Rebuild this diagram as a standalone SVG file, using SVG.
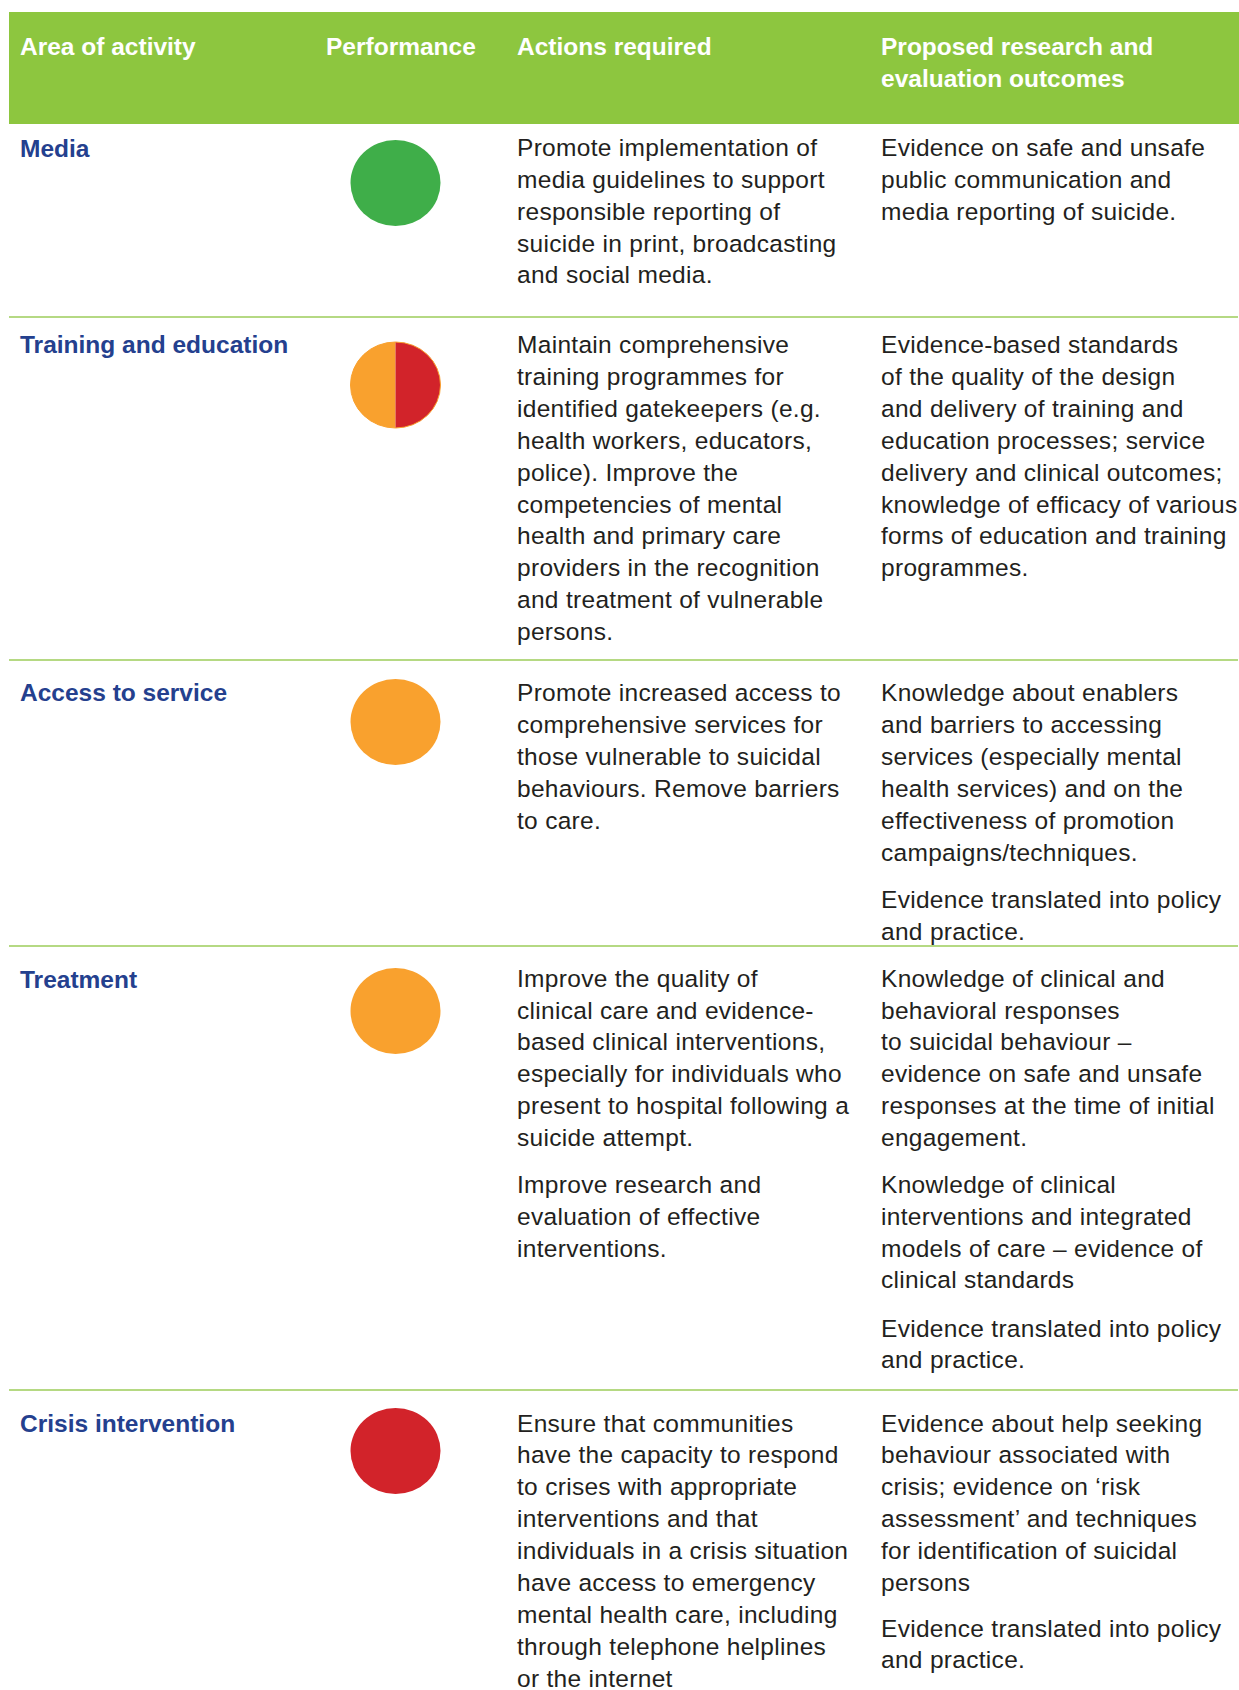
<svg xmlns="http://www.w3.org/2000/svg" width="1239" height="1690" viewBox="0 0 1239 1690">
<style>
.hd{font-family:"Liberation Sans",Arial,sans-serif;font-weight:bold;font-size:24.5px;fill:#ffffff}
.tt{font-family:"Liberation Sans",Arial,sans-serif;font-weight:bold;font-size:24.5px;fill:#24408e}
.bd{font-family:"Liberation Sans",Arial,sans-serif;font-size:24.5px;fill:#231f20;letter-spacing:0.3px}
.sep{stroke:#9ccc5a;stroke-width:1.6}
.green{fill:#3fae49}
.orange{fill:#f9a12e}
.red{fill:#d2232a}
</style>
<rect width="1239" height="1690" fill="#ffffff"/>
<g id="header">
<rect x="9" y="12" width="1230" height="112" fill="#8dc63f"/>
<text class="hd" x="20" y="55">Area of activity</text>
<text class="hd" x="326" y="55">Performance</text>
<text class="hd" x="517" y="55">Actions required</text>
<text class="hd"><tspan x="881" y="55">Proposed research and</tspan><tspan x="881" y="87">evaluation outcomes</tspan></text>
</g>
<g id="separators">
<line class="sep" x1="9" y1="317" x2="1238" y2="317"/>
<line class="sep" x1="9" y1="660" x2="1238" y2="660"/>
<line class="sep" x1="9" y1="946" x2="1238" y2="946"/>
<line class="sep" x1="9" y1="1390" x2="1238" y2="1390"/>
</g>
<g id="row-media">
<text class="tt" x="20" y="157">Media</text>
<ellipse class="green" cx="395.5" cy="183" rx="45" ry="43"/>
<text class="bd"><tspan x="517" y="156">Promote implementation of</tspan><tspan x="517" y="188">media guidelines to support</tspan><tspan x="517" y="220">responsible reporting of</tspan><tspan x="517" y="252">suicide in print, broadcasting</tspan><tspan x="517" y="283">and social media.</tspan></text>
<text class="bd"><tspan x="881" y="156">Evidence on safe and unsafe</tspan><tspan x="881" y="188">public communication and</tspan><tspan x="881" y="220">media reporting of suicide.</tspan></text>
</g>
<g id="row-training">
<text class="tt" x="20" y="353">Training and education</text>
<path class="orange" d="M395.5,342 A45,43 0 0 0 395.5,428 Z"/>
<path class="red" d="M395.5,342 A45,43 0 0 1 395.5,428 Z"/>
<ellipse cx="395.5" cy="385" rx="45" ry="43" fill="none" stroke="#f9a12e" stroke-width="1"/>
<text class="bd"><tspan x="517" y="353">Maintain comprehensive</tspan><tspan x="517" y="385">training programmes for</tspan><tspan x="517" y="417">identified gatekeepers (e.g.</tspan><tspan x="517" y="449">health workers, educators,</tspan><tspan x="517" y="481">police). Improve the</tspan><tspan x="517" y="513">competencies of mental</tspan><tspan x="517" y="544">health and primary care</tspan><tspan x="517" y="576">providers in the recognition</tspan><tspan x="517" y="608">and treatment of vulnerable</tspan><tspan x="517" y="640">persons.</tspan></text>
<text class="bd"><tspan x="881" y="353">Evidence-based standards</tspan><tspan x="881" y="385">of the quality of the design</tspan><tspan x="881" y="417">and delivery of training and</tspan><tspan x="881" y="449">education processes; service</tspan><tspan x="881" y="481">delivery and clinical outcomes;</tspan><tspan x="881" y="513">knowledge of efficacy of various</tspan><tspan x="881" y="544">forms of education and training</tspan><tspan x="881" y="576">programmes.</tspan></text>
</g>
<g id="row-access">
<text class="tt" x="20" y="701">Access to service</text>
<ellipse class="orange" cx="395.5" cy="722" rx="45" ry="43"/>
<text class="bd"><tspan x="517" y="701">Promote increased access to</tspan><tspan x="517" y="733">comprehensive services for</tspan><tspan x="517" y="765">those vulnerable to suicidal</tspan><tspan x="517" y="797">behaviours. Remove barriers</tspan><tspan x="517" y="829">to care.</tspan></text>
<text class="bd"><tspan x="881" y="701">Knowledge about enablers</tspan><tspan x="881" y="733">and barriers to accessing</tspan><tspan x="881" y="765">services (especially mental</tspan><tspan x="881" y="797">health services) and on the</tspan><tspan x="881" y="829">effectiveness of promotion</tspan><tspan x="881" y="861">campaigns/techniques.</tspan><tspan x="881" y="908">Evidence translated into policy</tspan><tspan x="881" y="940">and practice.</tspan></text>
</g>
<g id="row-treatment">
<text class="tt" x="20" y="988">Treatment</text>
<ellipse class="orange" cx="395.5" cy="1011" rx="45" ry="43"/>
<text class="bd"><tspan x="517" y="987">Improve the quality of</tspan><tspan x="517" y="1019">clinical care and evidence-</tspan><tspan x="517" y="1050">based clinical interventions,</tspan><tspan x="517" y="1082">especially for individuals who</tspan><tspan x="517" y="1114">present to hospital following a</tspan><tspan x="517" y="1146">suicide attempt.</tspan><tspan x="517" y="1193">Improve research and</tspan><tspan x="517" y="1225">evaluation of effective</tspan><tspan x="517" y="1257">interventions.</tspan></text>
<text class="bd"><tspan x="881" y="987">Knowledge of clinical and</tspan><tspan x="881" y="1019">behavioral responses</tspan><tspan x="881" y="1050">to suicidal behaviour –</tspan><tspan x="881" y="1082">evidence on safe and unsafe</tspan><tspan x="881" y="1114">responses at the time of initial</tspan><tspan x="881" y="1146">engagement.</tspan><tspan x="881" y="1193">Knowledge of clinical</tspan><tspan x="881" y="1225">interventions and integrated</tspan><tspan x="881" y="1257">models of care – evidence of</tspan><tspan x="881" y="1288">clinical standards</tspan><tspan x="881" y="1337">Evidence translated into policy</tspan><tspan x="881" y="1368">and practice.</tspan></text>
</g>
<g id="row-crisis">
<text class="tt" x="20" y="1432">Crisis intervention</text>
<ellipse class="red" cx="395.5" cy="1451" rx="45" ry="43"/>
<text class="bd"><tspan x="517" y="1432">Ensure that communities</tspan><tspan x="517" y="1463">have the capacity to respond</tspan><tspan x="517" y="1495">to crises with appropriate</tspan><tspan x="517" y="1527">interventions and that</tspan><tspan x="517" y="1559">individuals in a crisis situation</tspan><tspan x="517" y="1591">have access to emergency</tspan><tspan x="517" y="1623">mental health care, including</tspan><tspan x="517" y="1655">through telephone helplines</tspan><tspan x="517" y="1687">or the internet</tspan></text>
<text class="bd"><tspan x="881" y="1432">Evidence about help seeking</tspan><tspan x="881" y="1463">behaviour associated with</tspan><tspan x="881" y="1495">crisis; evidence on ‘risk</tspan><tspan x="881" y="1527">assessment’ and techniques</tspan><tspan x="881" y="1559">for identification of suicidal</tspan><tspan x="881" y="1591">persons</tspan><tspan x="881" y="1637">Evidence translated into policy</tspan><tspan x="881" y="1668">and practice.</tspan></text>
</g>
</svg>
